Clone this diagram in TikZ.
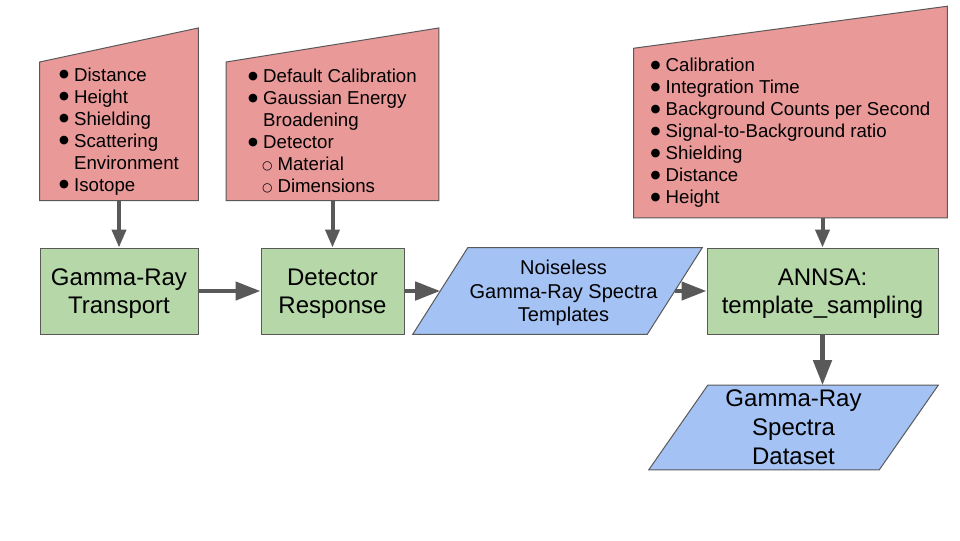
\documentclass[tikz,border=0pt]{standalone}
\usepackage{fontspec}
\setmainfont{Liberation Sans}
\newfontfamily\symfont{DejaVu Sans}
\usetikzlibrary{arrows.meta,positioning,backgrounds}

\definecolor{inred}{HTML}{EA9999}
\definecolor{stepgreen}{HTML}{B6D7A8}
\definecolor{datablue}{HTML}{A4C2F4}
\definecolor{edgegray}{HTML}{595959}

% list bullets
\newcommand{\bul}{\makebox[11.25pt][l]{\raisebox{2.4pt}{\symfont\fontsize{8.5}{8.5}\selectfont ●}}}
\newcommand{\subbul}{\hspace*{10.5pt}\makebox[11.5pt][l]{\raisebox{1pt}{\symfont\fontsize{9}{9}\selectfont ○}}}

\begin{document}
\begin{tikzpicture}[
  x=0.75pt,
  y=-0.75pt,
  stepbox/.style={
    rectangle,
    draw=edgegray,
    line width=0.75pt,
    fill=stepgreen,
    text=black,
    minimum height=64.5pt,
    text depth=0pt,
    align=center,
    font=\fontsize{18}{20.7}\selectfont
  },
  databox/.style={
    rectangle,
    inner sep=0pt,
    text=black,
    text depth=0pt,
    align=center
  },
  inbox/.style={
    rectangle,
    inner sep=0pt,
    align=left,
    text=black,
    font=\fontsize{14}{16.5}\selectfont
  },
  inshape/.style={
    draw=edgegray,
    line width=0.75pt,
    fill=inred
  },
  datashape/.style={
    draw=edgegray,
    line width=0.75pt,
    fill=datablue
  },
  arrow/.style={
    -{Triangle[length=18.75pt,width=13.5pt]},
    line width=3.4pt,
    draw=edgegray
  },
  feed/.style={
    -{Triangle[length=13.5pt,width=10.5pt]},
    line width=3pt,
    draw=edgegray
  }
]
\useasboundingbox (0,0) rectangle (960,540);

% Main processing chain
\node[stepbox, minimum width=118.5pt] (gtrans) at (119,291) {Gamma-Ray\\Transport};
\node[stepbox, minimum width=107.25pt] (detresp) at (332.5,291) {Detector\\Response};
\node[databox, minimum width=175.5pt, minimum height=64.5pt,
  font=\fontsize{15}{17.6}\selectfont] (templates) at (557.5,291)
  {\hspace*{9pt}Noiseless\\\hspace*{9pt}Gamma-Ray Spectra\\\hspace*{9pt}Templates};
\node[stepbox, minimum width=173.25pt] (annsa) at (822.5,291) {ANNSA:\\template\_sampling};
\node[databox, minimum width=172.5pt, minimum height=63pt,
  font=\fontsize{18}{21.75}\selectfont] (dataset) at (793.5,427.5)
  {Gamma-Ray\\Spectra\\Dataset};

% Manual inputs
\node[inbox, minimum width=118.5pt, minimum height=103.5pt, above=35.25pt of gtrans] (transin)
  {\bul Distance\\\bul Height\\\bul Shielding\\\bul Scattering\\\hspace*{11.25pt}Environment\\\bul Isotope};
\node[inbox, minimum width=159pt, minimum height=103.5pt, above=35.25pt of detresp] (detin)
  {\bul Default Calibration\\\bul Gaussian Energy\\\hspace*{11.25pt}Broadening\\\bul Detector\\\subbul Material\\\subbul Dimensions};
\node[inbox, minimum width=234.75pt, minimum height=126.75pt] (samplein) at (790.5,133)
  {\bul Calibration\\\bul Integration Time\\\bul Background Counts per Second\\\bul Signal-to-Background ratio\\\bul Shielding\\\bul Distance\\\bul Height};

\begin{scope}[on background layer]
\filldraw[inshape] (transin.south west) -- (transin.south east) -- ([yshift=25.5pt]transin.north east) -- (transin.north west) -- cycle;
\filldraw[inshape] (detin.south west) -- (detin.south east) -- ([yshift=25.5pt]detin.north east) -- (detin.north west) -- cycle;
\filldraw[inshape] (samplein.south west) -- (samplein.south east) -- ([yshift=31.5pt]samplein.north east) -- (samplein.north west) -- cycle;
% slanted data shapes
\filldraw[datashape] ([xshift=-20.6pt]templates.south west) -- ([xshift=-20.6pt]templates.south east) -- ([xshift=20.6pt]templates.north east) -- ([xshift=20.6pt]templates.north west) -- cycle;
\filldraw[datashape] ([xshift=-22.1pt]dataset.south west) -- ([xshift=-22.1pt]dataset.south east) -- ([xshift=22.1pt]dataset.north east) -- ([xshift=22.1pt]dataset.north west) -- cycle;
\end{scope}

% Arrows from inputs
\draw[feed] (transin) -- (gtrans);
\draw[feed] (detin) -- (detresp);
\draw[feed] (samplein.south -| annsa.north) -- (annsa.north);

% Arrows along the chain
\draw[arrow] (gtrans) -- (detresp);
\draw[arrow] (detresp) -- (templates);
\draw[arrow] (templates) -- (annsa);
\draw[arrow] (annsa.south) -- (annsa.south |- dataset.north);

\end{tikzpicture}
\end{document}
